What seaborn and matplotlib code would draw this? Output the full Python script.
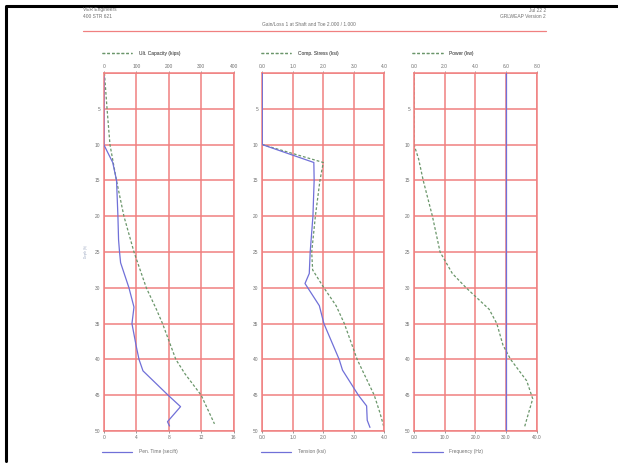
import matplotlib
matplotlib.use('Agg')
import matplotlib.pyplot as plt
import seaborn as sns
import pandas as pd
from matplotlib.lines import Line2D

sns.set_style('white')
plt.rcParams['font.family'] = ['Liberation Sans', 'DejaVu Sans']

# Panel 1: ultimate capacity (top axis) and penetration time (bottom axis)
cap_depth = [0, 5, 10, 15, 20, 25, 30, 33, 35, 40, 42, 45, 49]
cap_kips = [2, 10, 19, 39, 62, 93, 131, 162, 181, 222, 250, 300, 341]
pen_depth = [0.5, 10, 12.5, 15, 20, 23.3, 25, 26.5, 30, 32.7, 35, 38, 40, 41.6, 45, 46.6, 48.7, 49.3]
pen_time = [0, 0, 1.1, 1.57, 1.74, 1.82, 1.94, 2.07, 3.1, 3.72, 3.47, 3.97, 4.34, 4.83, 7.93, 9.46, 7.85, 8.1]

# Panel 2: compressive stress (top axis) and tension (bottom axis)
comp_depth = [0, 10, 12.5, 15, 20, 25, 27.5, 30, 32.5, 35, 40, 45, 47.5, 49.5]
comp_ksi = [0, 0, 2.0, 1.89, 1.74, 1.62, 1.65, 2.02, 2.42, 2.69, 3.11, 3.67, 3.86, 3.99]
ten_depth = [0, 10, 12.5, 15, 20, 25, 28, 29.4, 32.5, 35, 40, 41.5, 45, 46.5, 48.5, 49.5]
ten_ksi = [0, 0, 1.69, 1.70, 1.66, 1.57, 1.54, 1.40, 1.87, 2.02, 2.52, 2.63, 3.15, 3.42, 3.44, 3.53]

# Panel 3: power (top axis) and frequency (bottom axis)
pow_depth = [0, 10, 12, 15, 20, 25, 28, 30, 33, 35, 38, 40, 43, 45.5, 48, 49.5]
pow_kw = [0, 0, 0.3, 0.6, 1.2, 1.7, 2.5, 3.4, 4.9, 5.4, 5.8, 6.3, 7.35, 7.74, 7.4, 7.2]
freq_depth = [0, 50]
freq_hz = [30, 30]

depth_ticks = list(range(0, 55, 5))
depth_labels = [''] + [str(d) for d in depth_ticks[1:]]

panels = [
    dict(rect=[103.8, 129.8], top=(cap_kips, cap_depth, 400, [0, 100, 200, 300, 400], 'Ult. Capacity (kips)'),
         bot=(pen_time, pen_depth, 16, [0, 4, 8, 12, 16], 'Pen. Time (sec/ft)')),
    dict(rect=[262.3, 122.0], top=(comp_ksi, comp_depth, 4, ['0.0', '1.0', '2.0', '3.0', '4.0'], 'Comp. Stress (ksi)'),
         bot=(ten_ksi, ten_depth, 4, ['0.0', '1.0', '2.0', '3.0', '4.0'], 'Tension (ksi)')),
    dict(rect=[414.0, 122.7], top=(pow_kw, pow_depth, 8, ['0.0', '2.0', '4.0', '6.0', '8.0'], 'Power (kw)'),
         bot=(freq_hz, freq_depth, 40, ['0.0', '10.0', '20.0', '30.0', '40.0'], 'Frequency (Hz)')),
]

W, H = 618, 466
grid_red = '#f08080'
green = '#6a966a'
blue = '#7070d8'
txt = '#707070'
fs = 3.5

fig = plt.figure(figsize=(W / 100, H / 100), dpi=100)

for p in panels:
    x0, w = p['rect']
    ax = fig.add_axes([x0 / W, (H - 431) / H, w / W, 358 / H])
    tv, td, tmax, tlabels, tname = p['top']
    bv, bd, bmax, blabels, bname = p['bot']
    tw = ax.twiny()

    df_top = pd.DataFrame({'v': tv, 'depth': td})
    sns.lineplot(data=df_top, x='v', y='depth', ax=ax, orient='y', estimator=None, color=green,
                 linestyle=(0, (2.2, 1.6)), linewidth=0.9, legend=False)
    ax.set_xlim(0, tmax)
    ax.set_ylim(50, 0)
    ax.set_xticks([tmax * i / 4 for i in range(5)])
    ax.set_xticklabels([str(t) for t in tlabels])
    ax.set_yticks(depth_ticks)
    ax.set_yticklabels(depth_labels)
    ax.grid(True, color=grid_red, linewidth=1.1)
    ax.set_xlabel('')
    ax.set_ylabel('')
    for s in ax.spines.values():
        s.set_color(grid_red)
        s.set_linewidth(1.1)

    df_bot = pd.DataFrame({'v': bv, 'depth': bd})
    sns.lineplot(data=df_bot, x='v', y='depth', ax=tw, orient='y', estimator=None, color=blue,
                 linewidth=0.9, legend=False)
    tw.set_xlim(0, bmax)
    tw.set_ylim(50, 0)
    tw.set_xticks([bmax * i / 4 for i in range(5)])
    tw.set_xticklabels([str(t) for t in blabels])
    tw.set_xlabel('')
    tw.set_ylabel('')
    for s in tw.spines.values():
        s.set_visible(False)

    ax.xaxis.tick_top()
    ax.xaxis.set_label_position('top')
    tw.xaxis.tick_bottom()
    tw.xaxis.set_label_position('bottom')
    ax.tick_params(axis='both', labelsize=fs, colors=txt, length=1.5, pad=1.2, width=0.5)
    tw.tick_params(axis='x', labelsize=fs, colors=txt, length=1.5, pad=1.2, width=0.5)

    # legends above and below each panel
    h_top = [Line2D([0], [0], color=green, linestyle=(0, (2.2, 1.6)), linewidth=0.9)]
    leg1 = ax.legend(h_top, [tname], loc='center left', bbox_to_anchor=(-0.03, 1.0 + 20 / 358),
                     frameon=False, prop={'size': fs, 'weight': 'normal'}, labelcolor=txt,
                     handlelength=6.3, handletextpad=1.3, borderaxespad=0)
    ax.add_artist(leg1)
    h_bot = [Line2D([0], [0], color=blue, linewidth=0.9)]
    tw.legend(h_bot, [bname], loc='center left', bbox_to_anchor=(-0.03, -21 / 358),
              frameon=False, prop={'size': fs, 'weight': 'normal'}, labelcolor=txt,
              handlelength=6.3, handletextpad=1.3, borderaxespad=0)

# faint rotated depth label at far left
fig.text(85.5 / W, 1 - 252 / H, 'Depth (ft)', rotation=90, fontsize=2.2, color='#9aa6c0',
         ha='center', va='center')

# header block
fig.text(83 / W, 1 - 10 / H, 'VER Engineers', fontsize=fs, color=txt, va='center')
fig.text(83 / W, 1 - 17 / H, '400 STR 621', fontsize=fs, color=txt, va='center')
fig.text(546 / W, 1 - 10 / H, 'Jul 22 2', fontsize=fs, color=txt, va='center', ha='right')
fig.text(546 / W, 1 - 17 / H, 'GRLWEAP Version 2', fontsize=fs, color=txt, va='center', ha='right')
fig.text(309 / W, 1 - 24 / H, 'Gain/Loss 1 at Shaft and Toe 2.000 / 1.000', fontsize=fs,
         color=txt, va='center', ha='center')
fig.add_artist(Line2D([83 / W, 546 / W], [1 - 31 / H, 1 - 31 / H], color=grid_red, linewidth=0.9))

# outer black frame
fig.add_artist(Line2D([6 / W, 6 / W, 618 / W], [1 - 461 / H, 1 - 6 / H, 1 - 6 / H],
                      color='black', linewidth=2.2))

fig.savefig('out.png', dpi=100)
